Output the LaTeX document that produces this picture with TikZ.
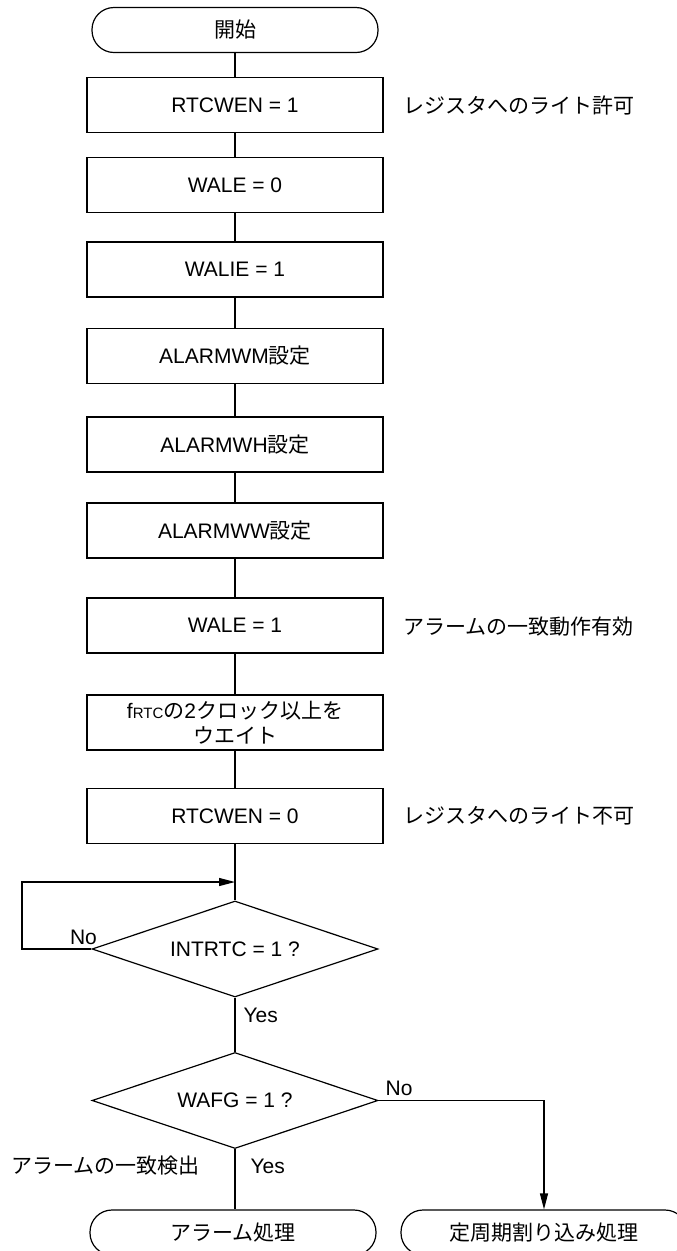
\documentclass[tikz,border=0pt]{standalone}
\usepackage{fontspec}
\setmainfont{Liberation Sans}
\newfontfamily\jpfont{Noto Sans CJK JP}
\newcommand\jpt[1]{{\jpfont #1}}
\usetikzlibrary{arrows.meta,shapes.geometric}
\begin{document}
\begin{tikzpicture}[x=1pt,y=1pt,
  every node/.style={font=\fontsize{21}{25}\selectfont},
  every path/.style={line width=1.2pt},
  procbox/.style={draw, rectangle, minimum width=296pt, minimum height=55pt, inner sep=0pt, align=center},
  termbox/.style={draw, rectangle, rounded corners=22pt, minimum width=286pt, minimum height=45pt, inner sep=0pt},
  decbox/.style={draw, diamond, aspect=4, minimum width=286pt, minimum height=96pt, inner sep=0pt},
  lbl/.style={inner sep=0pt},
  arr/.style={-{Triangle[length=16pt,width=8pt]}}
]
\useasboundingbox (0,0) rectangle (677,-1251);

\node[termbox] (start) at (235,-30) {\jpt{開始}};
\node[procbox] (b1) at (235,-105) {RTCWEN = 1};
\node[procbox] (b2) at (235,-185) {WALE = 0};
\node[procbox] (b3) at (235,-269.5) {WALIE = 1};
\node[procbox] (b4) at (235,-356) {ALARMWM\jpt{設定}};
\node[procbox] (b5) at (235,-444.5) {ALARMWH\jpt{設定}};
\node[procbox] (b6) at (235,-530.5) {ALARMWW\jpt{設定}};
\node[procbox] (b7) at (235,-625.5) {WALE = 1};
\node[procbox] (b8) at (235,-722.5) {f{\fontsize{15}{18}\selectfont RTC}\jpt{の}2\jpt{クロック以上を}\\\jpt{ウエイト}};
\node[procbox] (b9) at (235,-816) {RTCWEN = 0};

\node[decbox] (d1) at (235,-949) {INTRTC = 1 ?};
\node[decbox] (d2) at (235,-1100.5) {WAFG = 1 ?};

\node[termbox] (t1) at (233,-1232.5) {\jpt{アラーム処理}};
\node[termbox] (t2) at (544,-1232.5) {\jpt{定周期割り込み処理}};

% side notes
\node[lbl, anchor=west] (n1) at (403,-105) {\jpt{レジスタへのライト許可}};
\node[lbl, anchor=west] (n2) at (403,-627) {\jpt{アラームの一致動作有効}};
\node[lbl, anchor=west] (n3) at (403,-816) {\jpt{レジスタへのライト不可}};
\node[lbl, anchor=east] (n4) at (200,-1166) {\jpt{アラームの一致検出}};

% branch labels
\node[lbl] (no1) at (83.5,-937) {No};
\node[lbl, anchor=west] (yes1) at (243,-1015) {Yes};
\node[lbl, anchor=west] (no2) at (385,-1088) {No};
\node[lbl, anchor=west] (yes2) at (250,-1166) {Yes};

% connectors
\draw (start) -- (b1);
\draw (b1) -- (b2);
\draw (b2) -- (b3);
\draw (b3) -- (b4);
\draw (b4) -- (b5);
\draw (b5) -- (b6);
\draw (b6) -- (b7);
\draw (b7) -- (b8);
\draw (b8) -- (b9);
\draw (b9) -- (d1.north);

\coordinate (l1) at (22,-949);
\coordinate (l2) at (22,-882);
\coordinate (j1) at (235,-882);
\draw[arr] (d1.west) -- (l1) -- (l2) -- (j1);

\draw (d1.south) -- (d2.north);
\draw (d2.south) -- (d2.south |- t1.north);
\draw[arr] (d2.east) -| (t2.north);
\end{tikzpicture}
\end{document}
